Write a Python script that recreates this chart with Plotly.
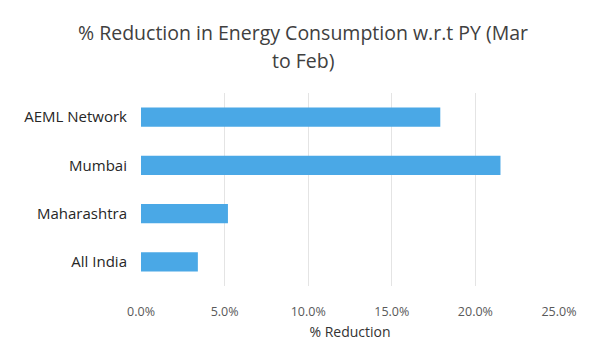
import plotly.graph_objects as go

categories = ["AEML Network", "Mumbai", "Maharashtra", "All India"]
reduction_pct = [17.9, 21.5, 5.2, 3.4]
tick_vals = [0, 5, 10, 15, 20, 25]
tick_text = ["0.0%", "5.0%", "10.0%", "15.0%", "20.0%", "25.0%"]
title_lines = ["% Reduction in Energy Consumption w.r.t PY (Mar", "to Feb)"]

W, H = 589, 358
ML, MR, MT, MB = 141, 23, 93, 72
plot_w = W - ML - MR
plot_h = H - MT - MB

fig = go.Figure(go.Bar(
    y=categories,
    x=reduction_pct,
    orientation="h",
    marker=dict(color="#4aa8e6", line=dict(width=0)),
    width=0.4,
))

for line, py in zip(title_lines, [32, 60]):
    fig.add_annotation(
        text=line, xref="paper", yref="paper",
        x=(306 - ML) / plot_w, y=(H - MB - py) / plot_h,
        xanchor="center", yanchor="middle",
        showarrow=False, font=dict(size=19.5, color="#404040"),
    )

fig.update_layout(
    width=W, height=H,
    margin=dict(l=ML, r=MR, t=MT, b=MB),
    paper_bgcolor="white", plot_bgcolor="white",
    font=dict(family="Open Sans, Liberation Sans, sans-serif", color="#404040"),
    showlegend=False,
    bargap=0.6,
)
fig.update_xaxes(
    range=[0, 25], tickvals=tick_vals, ticktext=tick_text,
    showgrid=True, gridcolor="#e4e4e4", gridwidth=1,
    zeroline=False, showline=False,
    tickfont=dict(size=12.5, color="#595959"),
    ticks="outside", ticklen=14, tickcolor="rgba(0,0,0,0)",
    title=dict(text="% Reduction", font=dict(size=14, color="#333333"), standoff=8),
)
fig.update_yaxes(
    categoryorder="array", categoryarray=categories[::-1],
    showgrid=False, zeroline=False, showline=False,
    tickfont=dict(size=15, color="#262626"),
    ticks="outside", ticklen=10, tickcolor="rgba(0,0,0,0)",
)

fig.write_html("out.html")
